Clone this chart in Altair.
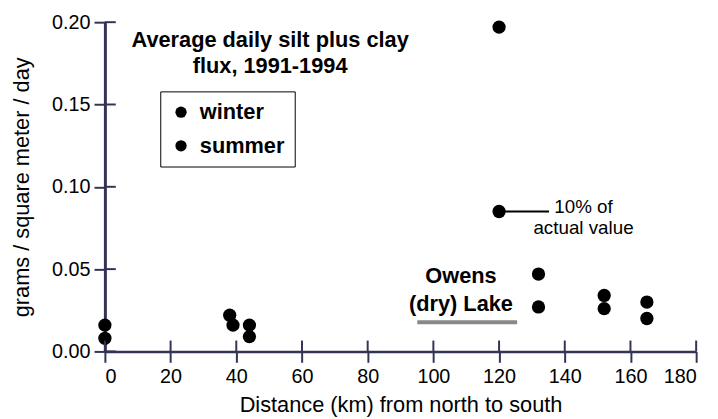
import altair as alt
import pandas as pd

# ---- data ----
season_names = ["winter", "summer"]
winter_km = [0, 38, 44, 120, 132, 152, 165]
winter_flux = [0.016, 0.022, 0.016, 0.197, 0.047, 0.034, 0.030]
summer_km = [0, 39, 44, 120, 132, 152, 165]
summer_flux = [0.008, 0.016, 0.009, 0.085, 0.027, 0.026, 0.020]

x_ticks = [0, 20, 40, 60, 80, 100, 120, 140, 160, 180]
y_ticks = [0.0, 0.05, 0.10, 0.15, 0.20]

title_lines = ["Average daily silt plus clay", "flux, 1991-1994"]
title_x = [50.3, 50.3]
title_y = [0.189, 0.1735]

lake_lines = ["Owens", "(dry) Lake"]
lake_x = [108.4, 108.4]
lake_y = [0.0456, 0.0288]

note_lines = ["10% of", "actual value"]
note_x = [145.7, 145.7]
note_y = [0.0877, 0.0751]

connector_x = [120, 135.2]
connector_y = [0.085]
underline_x = [95.1, 125.5]
underline_y = [0.0177]

FONT = "Liberation Sans"
INK = "#333355"
W, H = 598, 333
PX_X = 180 / W    # data units of one pixel along x
PX_Y = 0.2 / H    # data units of one pixel along y
TICK_PX = 11      # length of each half of the crossing tick marks

points = pd.DataFrame({
    "km": winter_km + summer_km,
    "flux": winter_flux + summer_flux,
    "season": ["winter"] * len(winter_km) + ["summer"] * len(summer_km),
})

xscale = alt.Scale(domain=[0, 180], nice=False, zero=False)
yscale = alt.Scale(domain=[0, 0.2], nice=False)

xaxis = alt.Axis(values=x_ticks, format="d", title="Distance (km) from north to south",
                 labelFontSize=20, titleFontSize=22, titleFontWeight="normal",
                 labelFont=FONT, titleFont=FONT, labelColor="black", titleColor="black",
                 ticks=True, tickColor=INK, tickSize=TICK_PX, tickWidth=2,
                 domain=True, domainColor=INK, domainWidth=2.5,
                 labelPadding=4, titlePadding=9, grid=False)
yaxis = alt.Axis(values=y_ticks, format=".2f", title="grams / square meter / day",
                 labelFontSize=20, titleFontSize=22, titleFontWeight="normal",
                 labelFont=FONT, titleFont=FONT, labelColor="black", titleColor="black",
                 ticks=True, tickColor=INK, tickSize=TICK_PX, tickWidth=2,
                 domain=True, domainColor=INK, domainWidth=3,
                 labelPadding=4, titlePadding=18, grid=False)

pts = alt.Chart(points).mark_circle(size=180, opacity=1, color="black").encode(
    x=alt.X("km:Q", scale=xscale, axis=xaxis),
    y=alt.Y("flux:Q", scale=yscale, axis=yaxis),
    color=alt.Color("season:N", scale=alt.Scale(domain=season_names, range=["black", "black"]),
                    legend=alt.Legend(title=None, orient="none", legendX=56, legendY=70,
                                      strokeColor="black", fillColor="white", padding=10,
                                      labelFontSize=22, labelFontWeight="bold", labelFont=FONT,
                                      labelColor="black", symbolType="circle", symbolSize=130,
                                      rowPadding=12, labelOffset=8)),
)


def hbar(xs, x2s, ys, width_px, color=INK):
    """Horizontal line drawn as a thin rectangle."""
    h = width_px * PX_Y / 2
    df = pd.DataFrame({"x": xs, "x2": x2s,
                       "y": [v - h for v in ys], "y2": [v + h for v in ys]})
    return alt.Chart(df).mark_rect(color=color).encode(
        x=alt.X("x:Q", scale=xscale), x2="x2:Q",
        y=alt.Y("y:Q", scale=yscale), y2="y2:Q")


def vbar(xs, ys, y2s, width_px, color=INK):
    """Vertical line drawn as a thin rectangle."""
    w = width_px * PX_X / 2
    df = pd.DataFrame({"x": [v - w for v in xs], "x2": [v + w for v in xs],
                       "y": ys, "y2": y2s})
    return alt.Chart(df).mark_rect(color=color).encode(
        x=alt.X("x:Q", scale=xscale), x2="x2:Q",
        y=alt.Y("y:Q", scale=yscale), y2="y2:Q")


# inner halves of the crossing tick marks (outer halves come from the axes)
tx = TICK_PX * PX_X
ty = TICK_PX * PX_Y
xt = vbar(x_ticks, [0.0] * len(x_ticks), [ty] * len(x_ticks), 2)
yt = hbar([0.0] * len(y_ticks), [tx] * len(y_ticks), y_ticks, 2)


def text_layer(lines, xs, ys, size, weight):
    df = pd.DataFrame({"label": lines, "x": xs, "y": ys})
    return alt.Chart(df).mark_text(fontSize=size, fontWeight=weight, font=FONT, color="black",
                                   align="center", baseline="middle").encode(
        x=alt.X("x:Q", scale=xscale), y=alt.Y("y:Q", scale=yscale), text="label:N")


title_t = text_layer(title_lines, title_x, title_y, 22, "bold")
lake_t = text_layer(lake_lines, lake_x, lake_y, 22, "bold")
note_t = text_layer(note_lines, note_x, note_y, 19, "normal")

conn = hbar([connector_x[0]], [connector_x[1]], connector_y, 2, "black")
under = hbar([underline_x[0]], [underline_x[1]], underline_y, 4, "#888888")

chart = alt.layer(pts, xt, yt, conn, under, title_t, lake_t, note_t).properties(
    width=W, height=H,
    background="white",
    autosize=alt.AutoSizeParams(type="none"),
    padding={"left": 98, "top": 12, "right": 14, "bottom": 66},
).configure_view(strokeWidth=0)

chart.save("out.html", embed_options={"renderer": "svg", "actions": False})
